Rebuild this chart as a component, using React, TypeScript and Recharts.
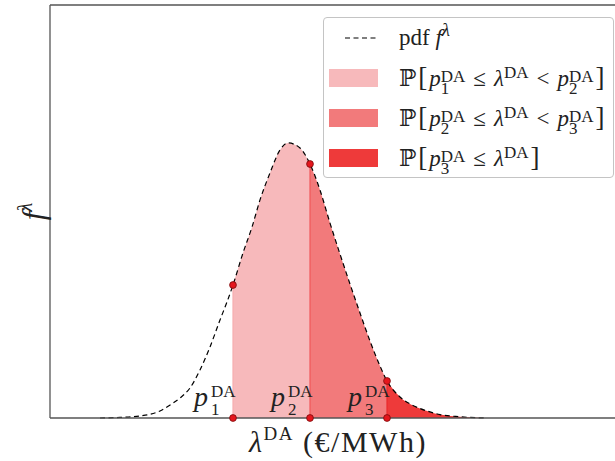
import React from "react"
import {
  ComposedChart,
  Area,
  Line,
  Scatter,
  XAxis,
  YAxis,
  Legend,
  Label,
  ReferenceLine,
} from "recharts"

// day-ahead price (€/MWh) and its density
const prices = [10, 14, 18, 22, 24, 26, 28, 30, 32, 34, 35.4, 36.6, 38.6, 40.4, 42, 44, 46, 47.6, 50, 52, 54, 56, 58, 60, 62, 64, 66, 67.4, 70, 72, 74, 76, 78, 82, 87]
const density = [0, 0.00004, 0.00015, 0.00051, 0.00094, 0.00145, 0.00218, 0.00349, 0.00516, 0.00712, 0.00843, 0.00966, 0.01199, 0.01387, 0.01584, 0.0178, 0.01947, 0.01998, 0.01961, 0.01845, 0.01656, 0.01416, 0.01191, 0.00973, 0.00763, 0.00559, 0.00378, 0.00269, 0.00153, 0.00102, 0.00069, 0.00044, 0.00025, 0.00009, 0]

// bid prices p1, p2, p3
const bidPrices = [36.6, 52, 67.4]
const bandColors = ["#f7b9bb", "#f27a7b", "#ee3a3a"]
const edgeColors = ["#f6aeb0", "#f0585a", "#e92a2d"]

const FONT = '"Liberation Serif", "DejaVu Serif", serif'

const [p1, p2, p3] = bidPrices
const rows = prices.map((x, i) => ({
  x,
  pdf: density[i],
  b1: x >= p1 && x <= p2 ? density[i] : null,
  b2: x >= p2 && x <= p3 ? density[i] : null,
  b3: x >= p3 ? density[i] : null,
}))
const onCurve = bidPrices.map((p) => ({ x: p, y: density[prices.indexOf(p)] }))
const onAxis = bidPrices.map((p, i) => ({ x: p, y: 0, n: i + 1 }))

function Dot({ cx, cy }: any) {
  return <circle cx={cx} cy={cy} r={3.4} fill="#e5161d" stroke="#7a0b0b" strokeWidth={0.8} />
}

function AxisDot({ cx, cy, payload }: any) {
  return (
    <g fontFamily={FONT} fill="#222">
      <text x={cx - 39} y={cy - 12} fontSize={28} fontStyle="italic">p</text>
      <text x={cx - 22} y={cy - 21} fontSize={17}>DA</text>
      <text x={cx - 22} y={cy - 3} fontSize={17}>{payload.n}</text>
      <circle cx={cx} cy={cy} r={3.4} fill="#e5161d" stroke="#7a0b0b" strokeWidth={0.8} />
    </g>
  )
}

function Pda({ n }: { n: number }) {
  return (
    <span>
      <i>p</i>
      <span style={{ display: "inline-block", verticalAlign: "-8px", fontSize: 17, lineHeight: "12px", fontStyle: "normal" }}>
        <span style={{ display: "block" }}>DA</span>
        <span style={{ display: "block" }}>{n}</span>
      </span>
    </span>
  )
}

const LamDA = () => (
  <span>
    <i>λ</i>
    <sup style={{ fontSize: 17, verticalAlign: "8px", lineHeight: 0 }}>DA</sup>
  </span>
)

const Br = ({ c }: { c: string }) => <span style={{ fontSize: 27, margin: "0 2px" }}>{c}</span>
const Rel = ({ c }: { c: string }) => <span style={{ margin: "0 8px" }}>{c}</span>

const legendLabels = [
  <span>pdf <i>f</i><sup style={{ fontSize: 19, verticalAlign: "9px", lineHeight: 0, fontStyle: "italic" }}>λ</sup></span>,
  <span>ℙ<Br c="[" /><Pda n={1} /><Rel c="≤" /><LamDA /><Rel c="<" /><Pda n={2} /><Br c="]" /></span>,
  <span>ℙ<Br c="[" /><Pda n={2} /><Rel c="≤" /><LamDA /><Rel c="<" /><Pda n={3} /><Br c="]" /></span>,
  <span>ℙ<Br c="[" /><Pda n={3} /><Rel c="≤" /><LamDA /><Br c="]" /></span>,
]

function LegendBox() {
  return (
    <div
      style={{
        boxSizing: "border-box",
        width: 291,
        height: 161,
        border: "1px solid #c4c4c4",
        borderRadius: 4,
        background: "rgba(255,255,255,0.85)",
        fontFamily: FONT,
        fontSize: 23,
        color: "#222",
        paddingTop: 0,
      }}
    >
      {legendLabels.map((lab, i) => (
        <div key={i} style={{ display: "flex", alignItems: "center", height: 40, whiteSpace: "nowrap" }}>
          <div style={{ width: 75, display: "flex", justifyContent: "center" }}>
            {i === 0 ? (
              <svg width={50} height={6}>
                <line x1={8} y1={3} x2={42} y2={3} stroke="#000" strokeWidth={1.2} strokeDasharray="5 3.5" />
              </svg>
            ) : (
              <div style={{ width: 49, height: 18, marginLeft: -17, background: bandColors[i - 1] }} />
            )}
          </div>
          {lab}
        </div>
      ))}
    </div>
  )
}

function XLabel({ viewBox }: any) {
  const cx = viewBox.x + viewBox.width / 2 - 7
  return (
    <text x={cx} y={viewBox.y + 34} textAnchor="middle" fontFamily={FONT} fontSize={30} fill="#222" letterSpacing={1.5}>
      <tspan fontStyle="italic">λ</tspan>
      <tspan fontSize={19} dy={-12}>DA</tspan>
      <tspan dy={12}> (€/MWh)</tspan>
    </text>
  )
}

function YLabel({ viewBox }: any) {
  const cy = viewBox.y + viewBox.height / 2
  return (
    <text x={0} y={0} transform={`translate(44, ${cy}) rotate(-90)`} textAnchor="middle" fontFamily={FONT} fontSize={31} fill="#222">
      <tspan fontStyle="italic">f</tspan>
      <tspan fontSize={21} dy={-12} fontStyle="italic">λ</tspan>
    </text>
  )
}

export default function App() {
  return (
    <div style={{ position: "fixed", left: 0, top: 0, width: 615, height: 461, overflow: "hidden", background: "#fff" }}>
      <ComposedChart width={650} height={461} data={rows} margin={{ top: 5, right: 10, left: 0, bottom: 0 }}>
        <XAxis dataKey="x" type="number" domain={[0, 118]} tick={false} tickLine={false} height={43} axisLine={{ stroke: "#555", strokeWidth: 1.3 }}>
          <Label content={XLabel} />
        </XAxis>
        <YAxis type="number" domain={[0, 0.03]} tick={false} tickLine={false} width={50} axisLine={{ stroke: "#555", strokeWidth: 1.3 }}>
          <Label content={YLabel} />
        </YAxis>
        <ReferenceLine y={0.03} stroke="#555" strokeWidth={1.3} />
        <ReferenceLine x={118} stroke="#555" strokeWidth={1.3} />
        <Legend
          layout="vertical"
          align="center"
          verticalAlign="middle"
          width={291}
          height={161}
          wrapperStyle={{ left: 323, top: 17 }}
          content={LegendBox}
        />
        <Area dataKey="b1" type="monotone" fill={bandColors[0]} fillOpacity={1} stroke="none" isAnimationActive={false} />
        <Area dataKey="b2" type="monotone" fill={bandColors[1]} fillOpacity={1} stroke="none" isAnimationActive={false} />
        <Area dataKey="b3" type="monotone" fill={bandColors[2]} fillOpacity={1} stroke="none" isAnimationActive={false} />
        {onCurve.map((pt, i) => (
          <ReferenceLine key={i} segment={[{ x: pt.x, y: 0 }, { x: pt.x, y: pt.y }]} stroke={edgeColors[i]} strokeWidth={1.2} />
        ))}
        <Line dataKey="pdf" type="monotone" stroke="#000" strokeWidth={1.2} strokeDasharray="5 3.5" dot={false} isAnimationActive={false} />
        <Scatter data={onCurve} dataKey="y" shape={Dot} isAnimationActive={false} />
        <Scatter data={onAxis} dataKey="y" shape={AxisDot} isAnimationActive={false} />
      </ComposedChart>
    </div>
  )
}
